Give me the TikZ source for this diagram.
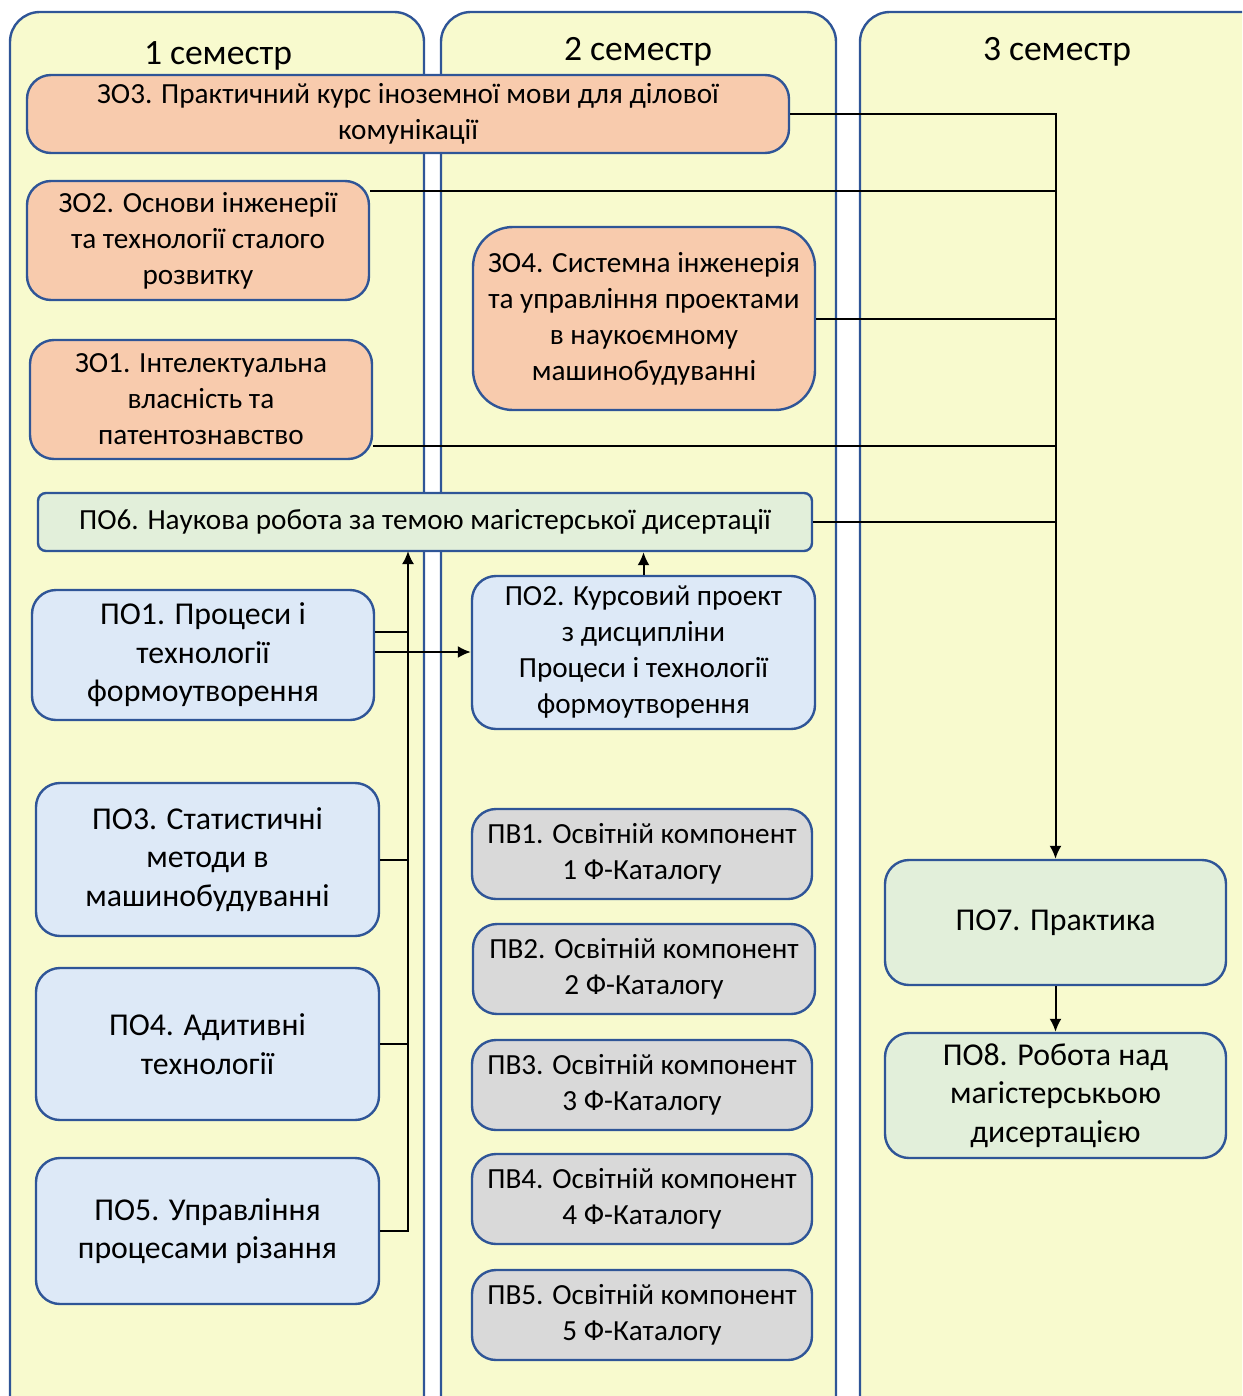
\documentclass[tikz,border=0pt]{standalone}
\usepackage{fontspec}
\setmainfont{Carlito}
\usetikzlibrary{arrows.meta}

\definecolor{semfill}{RGB}{248,250,206}
\definecolor{frame}{RGB}{47,85,151}
\definecolor{zofill}{RGB}{248,203,173}
\definecolor{pofill}{RGB}{221,233,247}
\definecolor{pvfill}{RGB}{217,217,217}
\definecolor{grfill}{RGB}{226,239,218}

\tikzset{
	semcol/.style={draw=frame, fill=semfill, line width=1.2pt, rounded corners=15pt},
	semtitle/.style={font=\fontsize{17.8pt}{20pt}\selectfont},
	course/.style={draw=frame, line width=1.2pt, rounded corners=12pt, align=center,
		inner sep=2pt, font=\fontsize{14.6pt}{18pt}\selectfont},
	bigtext/.style={font=\fontsize{15.9pt}{19.3pt}\selectfont},
	zo/.style={course, fill=zofill},
	po/.style={course, fill=pofill},
	pv/.style={course, fill=pvfill},
	gr/.style={course, fill=grfill},
	link/.style={line width=1pt},
	>={Latex[length=6.5pt,width=6pt]}
}

\begin{document}
\begin{tikzpicture}[x=0.5pt,y=-0.5pt]
	\useasboundingbox (0,0) rectangle (1242,1396);
	\clip (0,0) rectangle (1242,1396);
	% semester columns
	\draw[semcol] (10,12) rectangle (424,1430);
	\draw[semcol] (441,12) rectangle (836,1430);
	\draw[semcol] (860,12) rectangle (1300,1430);
	\node[semtitle] (sem1) at (218,56) {1 семестр};
	\node[semtitle] (sem2) at (638,52) {2 семестр};
	\node[semtitle] (sem3) at (1057,52) {3 семестр};
	% general courses
	\node[zo, minimum width=381pt, minimum height=39pt] (zo3) at (408,114)
		{ЗО3. Практичний курс іноземної мови для ділової\\комунікації};
	\node[zo, minimum width=171pt, minimum height=59.5pt] (zo2) at (198,240.5)
		{ЗО2. Основи інженерії\\та технології сталого\\розвитку};
	\node[zo, minimum width=171pt, minimum height=91.5pt, rounded corners=20pt] (zo4) at (644,318.5)
		{ЗО4. Системна інженерія\\та управління проектами\\в наукоємному\\машинобудуванні};
	\node[zo, minimum width=171pt, minimum height=59.5pt] (zo1) at (201,399.5)
		{ЗО1. Інтелектуальна\\власність та\\патентознавство};
	% research work
	\node[gr, minimum width=387pt, minimum height=29pt, rounded corners=4pt] (po6) at (425,522)
		{ПО6. Наукова робота за темою магістерської дисертації};
	% professional courses
	\node[po, bigtext, minimum width=171pt, minimum height=65pt] (po1) at (203,655)
		{ПО1. Процеси і\\технології\\формоутворення};
	\node[po, minimum width=171.5pt, minimum height=76.5pt] (po2) at (643.5,652.5)
		{ПО2. Курсовий проект\\з дисципліни\\Процеси і технології\\формоутворення};
	\node[po, bigtext, minimum width=171.5pt, minimum height=76.5pt] (po3) at (207.5,859.5)
		{ПО3. Статистичні\\методи в\\машинобудуванні};
	\node[po, bigtext, minimum width=171.5pt, minimum height=76pt] (po4) at (207.5,1044)
		{ПО4. Адитивні\\технології};
	\node[po, bigtext, minimum width=171.5pt, minimum height=73pt] (po5) at (207.5,1231)
		{ПО5. Управління\\процесами різання};
	% elective courses
	\node[pv, minimum width=170pt, minimum height=45pt] (pv1) at (642,854)
		{ПВ1. Освітній компонент\\1 Ф-Каталогу};
	\node[pv, minimum width=171pt, minimum height=45pt] (pv2) at (644,969)
		{ПВ2. Освітній компонент\\2 Ф-Каталогу};
	\node[pv, minimum width=170pt, minimum height=45pt] (pv3) at (642,1085)
		{ПВ3. Освітній компонент\\3 Ф-Каталогу};
	\node[pv, minimum width=170pt, minimum height=45pt] (pv4) at (642,1199)
		{ПВ4. Освітній компонент\\4 Ф-Каталогу};
	\node[pv, minimum width=170pt, minimum height=45pt] (pv5) at (642,1315)
		{ПВ5. Освітній компонент\\5 Ф-Каталогу};
	% third semester
	\node[gr, bigtext, minimum width=170.5pt, minimum height=62.5pt] (po7) at (1055.5,922.5)
		{ПО7. Практика};
	\node[gr, bigtext, minimum width=170.5pt, minimum height=62.5pt] (po8) at (1055.5,1095.5)
		{ПО8. Робота над\\магістерськьою\\дисертацією};
	% links to the practice
	\draw[link,->] (zo3.east) -| (po7.north);
	\draw[link] ([yshift=-5.5pt]zo2.north east) -- ([yshift=-5.5pt]zo2.north east -| po7.north);
	\draw[link] (zo4.east) -- (zo4.east -| po7.north);
	\draw[link] ([yshift=7pt]zo1.south east) -- ([yshift=7pt]zo1.south east -| po7.north);
	\draw[link] (po6.east) -- (po6.east -| po7.north);
	\draw[link,->] (po7) -- (po8);
	% links to the research work
	\coordinate (spine) at (408,551);
	\draw[link,->] (po5.east) -| (spine);
	\draw[link] (po4.east) -- (po4.east -| spine);
	\draw[link] (po3.east) -- (po3.east -| spine);
	\draw[link] ([yshift=11.5pt]po1.east) -- ([yshift=11.5pt]po1.east -| spine);
	\draw[link,->] ([yshift=1.5pt]po1.east) -- ([yshift=1.5pt]po1.east -| po2.west);
	\draw[link,->] (po2.north) -- (po2.north |- po6.south);
\end{tikzpicture}
\end{document}
